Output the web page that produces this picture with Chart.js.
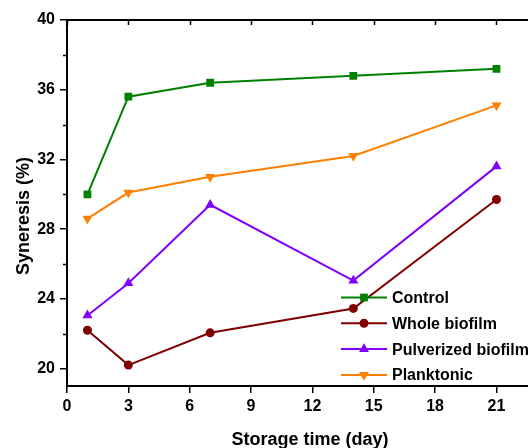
<!DOCTYPE html>
<html>
<head>
<meta charset="utf-8">
<script src="https://cdn.jsdelivr.net/npm/chart.js@4.4.1/dist/chart.umd.min.js"></script>
<style>
  html, body { margin: 0; padding: 0; background: #fff; overflow: hidden; }
  #wrap { position: relative; width: 528px; height: 448px; overflow: hidden; }
</style>
</head>
<body>
<div id="wrap"><canvas id="chart" width="535" height="448"></canvas></div>
<script>
// values
const days = [1, 3, 7, 14, 21];
const control = [30.0, 35.6, 36.4, 36.8, 37.2];
const wholeBiofilm = [22.2, 20.2, 22.05, 23.45, 29.7];
const pulverizedBiofilm = [23.05, 24.9, 29.4, 25.05, 31.6];
const planktonic = [28.6, 30.1, 31.0, 32.2, 35.1];

const xTicks = [0, 3, 6, 9, 12, 15, 18, 21];
const yTicks = [20, 24, 28, 32, 36, 40];
const yMinorTicks = [22, 26, 30, 34, 38];

const FONT = "'Liberation Sans', Arial, sans-serif";

const series = [
  { label: 'Control', data: control, color: '#008000', style: 'rect', radius: 5.5, rotation: 0 },
  { label: 'Whole biofilm', data: wholeBiofilm, color: '#800000', style: 'circle', radius: 4.5, rotation: 0 },
  { label: 'Pulverized biofilm', data: pulverizedBiofilm, color: '#8000ff', style: 'triangle', radius: 5.8, rotation: 0 },
  { label: 'Planktonic', data: planktonic, color: '#ff8000', style: 'triangle', radius: 5.8, rotation: 180 },
];

function drawMarker(ctx, s, x, y) {
  const r = s.radius;
  ctx.save();
  ctx.fillStyle = s.color;
  ctx.beginPath();
  if (s.style === 'rect') {
    const h = Math.SQRT1_2 * r;
    ctx.rect(x - h, y - h, 2 * h, 2 * h);
  } else if (s.style === 'circle') {
    ctx.arc(x, y, r, 0, Math.PI * 2);
  } else {
    const rot = s.rotation * Math.PI / 180;
    for (let i = 0; i < 3; i++) {
      const a = rot + i * 2 * Math.PI / 3;
      const px = x + Math.sin(a) * r;
      const py = y - Math.cos(a) * r;
      if (i === 0) ctx.moveTo(px, py); else ctx.lineTo(px, py);
    }
    ctx.closePath();
  }
  ctx.fill();
  ctx.restore();
}

// frame, minor ticks, titles and the inside legend
const decorations = {
  id: 'decorations',
  afterDraw(chart) {
    const { ctx, chartArea: area, scales } = chart;
    ctx.save();
    ctx.strokeStyle = '#000';
    ctx.lineWidth = 2;
    ctx.beginPath();
    ctx.moveTo(area.left - 1, area.top);
    ctx.lineTo(area.right + 2, area.top);
    ctx.stroke();

    ctx.lineWidth = 1.5;
    ctx.beginPath();
    xTicks.forEach((v) => {
      const px = Math.round(scales.x.getPixelForValue(v)) + 0.5;
      ctx.moveTo(px, area.top);
      ctx.lineTo(px, area.top + 5);
    });
    yMinorTicks.forEach((v) => {
      const py = Math.round(scales.y.getPixelForValue(v)) + 0.5;
      ctx.moveTo(area.left, py);
      ctx.lineTo(area.left - 4, py);
    });
    ctx.stroke();

    ctx.fillStyle = '#000';
    ctx.font = 'bold 18px ' + FONT;
    ctx.textAlign = 'center';
    ctx.textBaseline = 'alphabetic';
    ctx.fillText('Storage time (day)', 310, 445);

    ctx.save();
    ctx.translate(29, 216);
    ctx.rotate(-Math.PI / 2);
    ctx.fillText('Syneresis (%)', 0, 0);
    ctx.restore();

    ctx.font = 'bold 16px ' + FONT;
    ctx.textAlign = 'left';
    ctx.textBaseline = 'middle';
    series.forEach((s, i) => {
      const y = 297.5 + i * 25.8;
      ctx.strokeStyle = s.color;
      ctx.lineWidth = 2;
      ctx.beginPath();
      ctx.moveTo(341, y);
      ctx.lineTo(387, y);
      ctx.stroke();
      drawMarker(ctx, s, 364, y);
      ctx.fillStyle = '#000';
      ctx.fillText(s.label, 392, y + 1);
    });
    ctx.restore();
  },
};

const tickFont = { family: FONT, size: 16, weight: 'bold' };

new Chart(document.getElementById('chart'), {
  type: 'line',
  data: {
    labels: days,
    datasets: series.map((s) => ({
      label: s.label,
      data: days.map((d, i) => ({ x: d, y: s.data[i] })),
      borderColor: s.color,
      backgroundColor: s.color,
      borderWidth: 2,
      pointStyle: s.style,
      pointRadius: s.radius,
      pointRotation: s.rotation,
      pointBorderWidth: 0,
      tension: 0,
    })),
  },
  options: {
    responsive: false,
    animation: false,
    layout: { padding: { top: 20, right: 0, left: 0, bottom: 0 } },
    plugins: { legend: { display: false }, tooltip: { enabled: false } },
    scales: {
      x: {
        type: 'linear',
        min: 0,
        max: 22.6,
        afterBuildTicks: (scale) => { scale.ticks = xTicks.map((v) => ({ value: v })); },
        afterFit: (scale) => { scale.height = 62; },
        ticks: { color: '#000', font: tickFont, padding: 4, maxRotation: 0 },
        grid: { drawOnChartArea: false, tickLength: 7, color: '#000', lineWidth: 1.5 },
        border: { display: true, color: '#000', width: 2 },
      },
      y: {
        min: 19,
        max: 40,
        afterBuildTicks: (scale) => { scale.ticks = yTicks.map((v) => ({ value: v })); },
        afterFit: (scale) => { scale.width = 67; },
        ticks: { color: '#000', font: tickFont, padding: 5 },
        grid: { drawOnChartArea: false, tickLength: 7, color: '#000', lineWidth: 1.5 },
        border: { display: true, color: '#000', width: 2 },
      },
    },
  },
  plugins: [decorations],
});
</script>
</body>
</html>
